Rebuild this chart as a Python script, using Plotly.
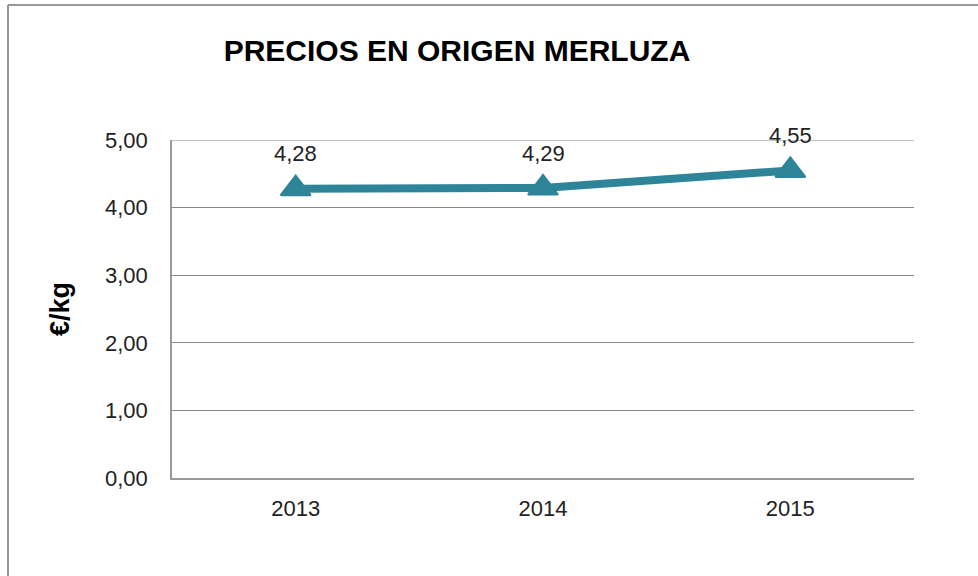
import plotly.graph_objects as go

years = ["2013", "2014", "2015"]
precios = [4.28, 4.29, 4.55]
etiquetas = ["4,28", "4,29", "4,55"]
y_max = 5

L, R, T, B = 172, 64, 140, 98
W, H = 978, 576
pw, ph = W - L - R, H - T - B

def px(x):
    return (x - L) / pw

def py(y):
    return (H - B - y) / ph

FONT = "Liberation Sans, Arial"
TEAL = "#2E8499"
GRID = "#888888"

fig = go.Figure()
fig.add_trace(go.Scatter(
    x=years, y=precios, mode="lines+markers",
    line=dict(color=TEAL, width=8),
    marker=dict(symbol="triangle-up", size=26, color=TEAL,
                line=dict(color=TEAL, width=2)),
    cliponaxis=False, showlegend=False, hoverinfo="skip",
))

for i, (v, lab) in enumerate(zip(precios, etiquetas)):
    fig.add_annotation(x=i, y=v, xref="x", yref="y", text=lab, showarrow=False,
                       xanchor="center", yanchor="middle", yshift=35,
                       font=dict(size=22, color="#222222", family=FONT))

fig.update_layout(
    width=W, height=H,
    margin=dict(l=L, r=R, t=T, b=B),
    paper_bgcolor="white", plot_bgcolor="white",
    font=dict(family=FONT, size=22, color="#222222"),
    separators=",.",
    title=dict(text="<b>PRECIOS EN ORIGEN MERLUZA</b>", x=457 / W, xanchor="center",
               y=1 - 50 / H, yanchor="middle",
               font=dict(size=30, color="black")),
    xaxis=dict(type="category", range=[-0.5, 2.5], showgrid=False,
               showline=True, linecolor="#999999", linewidth=1.5,
               ticks="", ticklabelstandoff=10, tickfont=dict(size=22)),
    yaxis=dict(range=[0, y_max], tickvals=[0, 1, 2, 3, 4, 5], tickformat=".2f",
               showgrid=True, gridcolor=GRID, gridwidth=1,
               showline=True, linecolor="#999999", linewidth=1.5,
               zeroline=False, ticks="", ticklabelstandoff=18,
               tickfont=dict(size=22),
               title=dict(text="<b>€/kg</b>", font=dict(size=27, color="black"), standoff=28)),
    shapes=[
        dict(type="line", xref="paper", yref="y", x0=0, x1=1, y0=y_max, y1=y_max,
             layer="below", line=dict(color=GRID, width=1)),
        dict(type="line", xref="paper", yref="paper", x0=px(8), x1=px(8), y0=py(5), y1=py(580),
             line=dict(color="#999999", width=2)),
        dict(type="line", xref="paper", yref="paper", x0=px(8), x1=px(980), y0=py(5), y1=py(5),
             line=dict(color="#999999", width=2)),
    ],
)

fig.write_html("out.html", config={"displayModeBar": False},
               post_script="document.body.style.margin='0px';")
